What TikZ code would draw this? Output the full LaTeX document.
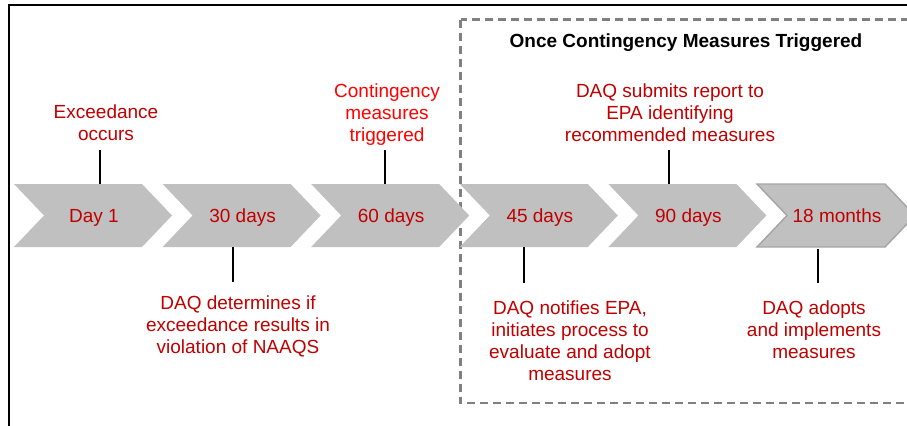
\documentclass[tikz,border=0pt]{standalone}
\usepackage{fontspec}
\setmainfont{Liberation Sans}
\newcommand{\labelfont}{\fontsize{14.25pt}{16.5pt}\selectfont}
\begin{document}
\begin{tikzpicture}[x=0.75pt, y=-0.75pt,
  chevron/.style={fill=chevgray},
  lastchevron/.style={fill=chevgray, draw=chevline, line width=1.1pt},
  daytext/.style={text=labelred, font=\labelfont, anchor=base, inner sep=0pt},
  eventtext/.style={text=labelred, font=\labelfont, align=center, anchor=north, inner sep=0pt},
  tick/.style={draw=black, line width=1.3pt},
  dashbox/.style={draw=boxgray, line width=1.8pt, dash pattern=on 6pt off 3.75pt},
  frame/.style={draw=black, line width=1.6pt}]
\definecolor{chevgray}{HTML}{C0C0C0}
\definecolor{chevline}{HTML}{A6A6A6}
\definecolor{labelred}{HTML}{C00000}
\definecolor{brightred}{HTML}{FF0000}
\definecolor{boxgray}{HTML}{808080}
\useasboundingbox (0,0) rectangle (907,425);
% outer frame and triggered box
\draw[frame] (9,430) -- (9,5) -- (920,5);
\draw[dashbox] (460.5,19.5) rectangle (925,403);
% timeline chevrons
\foreach \i/\lab/\sty in {0/Day 1/chevron, 1/30 days/chevron, 2/60 days/chevron,
    3/45 days/chevron, 4/90 days/chevron, 5/18 months/lastchevron} {
  \pgfmathsetmacro{\xl}{14 + 148.6*\i}
  \path[\sty] (\xl,184) -- ++(128,0) -- ++(30,31.5) -- ++(-30,31.5) -- ++(-128,0) -- ++(30,-31.5) -- cycle;
  \node[daytext] (day\i) at (\xl+80,222) {\lab};
}
% ticks
\foreach \nm/\x/\ya/\yb in {exceed/100/184/150, trigger/385/184/150, report/669/184/150,
    determine/233/247/282, notify/524/247/283, adopt/818/249/283} {
  \coordinate (\nm-on) at (\x,\ya);
  \coordinate (\nm-off) at (\x,\yb);
  \draw[tick] (\nm-on) -- (\nm-off);
}
% labels
\node[font=\labelfont\bfseries, anchor=north, inner sep=0pt] (heading) at (686,33) {Once Contingency Measures Triggered};
\node[eventtext] (exceed) at (106,104) {Exceedance\\occurs};
\node[eventtext, text=brightred] (trigger) at (387,83) {Contingency\\measures\\triggered};
\node[eventtext] (report) at (670,83) {DAQ submits report to\\EPA identifying\\recommended measures};
\node[eventtext] (determine) at (238,295) {DAQ determines if\\exceedance results in\\violation of NAAQS};
\node[eventtext] (notify) at (570,300) {DAQ notifies EPA,\\initiates process to\\evaluate and adopt\\measures};
\node[eventtext] (adopt) at (814,300) {DAQ adopts\\and implements\\measures};
\end{tikzpicture}
\end{document}
